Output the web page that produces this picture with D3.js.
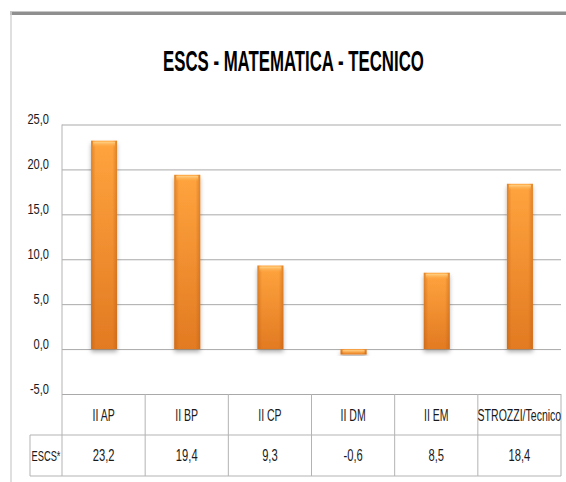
<!DOCTYPE html>
<html>
<head>
<meta charset="utf-8">
<script src="https://cdn.jsdelivr.net/npm/d3@7"></script>
<style>
  body { margin: 0; background: #fff; }
  text { font-family: "Liberation Sans", Arial, sans-serif; fill: #1a1a1a; }
</style>
</head>
<body>
<div id="chart"></div>
<script>
/* chart data */
var categories = ["II AP", "II BP", "II CP", "II DM", "II EM", "STROZZI/Tecnico"];
var escsValues = [23.2, 19.4, 9.3, -0.6, 8.5, 18.4];
var yTicks = [-5, 0, 5, 10, 15, 20, 25];
var seriesName = "ESCS*";
var chartTitle = "ESCS - MATEMATICA - TECNICO";

var W = 566, H = 482;
var plot = { left: 62, right: 561, top: 124.5, bottom: 394 };
var table = { left: 30, rowH: 41, bottom: 476 };

/* italian number format: comma decimal, plain hyphen minus */
var itLocale = d3.formatLocale({ decimal: ",", thousands: ".", grouping: [3], currency: ["", " €"], minus: "-" });
var fmt = itLocale.format(".1f");

/* squeeze text horizontally around its anchor x (the source font is a narrow one) */
function squeeze(sel, k) {
  sel.each(function () {
    var t = d3.select(this);
    var x0 = +t.attr("x") || 0;
    t.attr("transform", "translate(" + x0 + ",0) scale(" + k + ",1) translate(" + (-x0) + ",0)");
  });
}

var svg = d3.select("#chart").append("svg")
  .attr("width", W)
  .attr("height", H);

/* gradients and shadow */
var defs = svg.append("defs");
var grad = defs.append("linearGradient")
  .attr("id", "barFill").attr("x1", 0).attr("y1", 0).attr("x2", 0).attr("y2", 1);
grad.append("stop").attr("offset", "0%").attr("stop-color", "#ffa43e");
grad.append("stop").attr("offset", "100%").attr("stop-color", "#e27a22");

var side = defs.append("linearGradient")
  .attr("id", "barSide").attr("x1", 0).attr("y1", 0).attr("x2", 1).attr("y2", 0);
side.append("stop").attr("offset", "0%").attr("stop-color", "#b85a10").attr("stop-opacity", 0.45);
side.append("stop").attr("offset", "18%").attr("stop-color", "#b85a10").attr("stop-opacity", 0);
side.append("stop").attr("offset", "82%").attr("stop-color", "#b85a10").attr("stop-opacity", 0);
side.append("stop").attr("offset", "100%").attr("stop-color", "#b85a10").attr("stop-opacity", 0.45);

var bevel = defs.append("linearGradient")
  .attr("id", "barTop").attr("x1", 0).attr("y1", 0).attr("x2", 0).attr("y2", 1);
bevel.append("stop").attr("offset", "0%").attr("stop-color", "#ffd48a");
bevel.append("stop").attr("offset", "100%").attr("stop-color", "#ffa43e").attr("stop-opacity", 0);

var shadow = defs.append("filter").attr("id", "shadow")
  .attr("x", "-30%").attr("y", "-10%").attr("width", "160%").attr("height", "130%");
shadow.append("feDropShadow")
  .attr("dx", 0).attr("dy", 3).attr("stdDeviation", 2)
  .attr("flood-color", "#000").attr("flood-opacity", 0.3);

/* outer frame */
svg.append("line")
  .attr("x1", 10).attr("x2", W).attr("y1", 13.3).attr("y2", 13.3)
  .style("stroke", "#8f8f8f").style("stroke-width", 3.4);
svg.append("line")
  .attr("x1", 11).attr("x2", 11).attr("y1", 12).attr("y2", H)
  .style("stroke", "#d4d4d4").style("stroke-width", 1.5);

/* title, fitted to the width it has in the source */
var title = svg.append("text")
  .attr("x", 163).attr("y", 71.5)
  .style("font-size", "30px")
  .style("font-weight", "bold")
  .style("fill", "#000")
  .text(chartTitle);
squeeze(title, 261 / title.node().getComputedTextLength());

/* scales */
var x = d3.scaleBand().domain(categories).range([plot.left, plot.right]).paddingInner(0).paddingOuter(0);
var y = d3.scaleLinear().domain([-5, 25]).range([plot.bottom, plot.top]);

/* gridlines */
svg.append("g").attr("class", "grid")
  .attr("transform", "translate(" + plot.left + ",0)")
  .call(d3.axisLeft(y).tickValues(yTicks).tickSize(-(plot.right - plot.left)).tickFormat(""))
  .call(function (g) { g.select(".domain").remove(); })
  .selectAll("line")
  .style("stroke", "#a9a9a9")
  .style("stroke-width", 1);

/* y axis labels */
svg.append("g")
  .attr("transform", "translate(" + plot.left + ",0)")
  .call(d3.axisLeft(y).tickValues(yTicks).tickSize(0).tickPadding(13).tickFormat(fmt))
  .call(function (g) { g.select(".domain").remove(); })
  .selectAll("text")
  .style("font-size", "15px")
  .style("fill", "#1a1a1a")
  .attr("dy", "-0.05em")
  .call(squeeze, 0.74);

/* bars */
var bw = 26;
var bars = svg.append("g").selectAll(".bar")
  .data(escsValues)
  .enter()
  .append("g")
  .attr("class", "bar");

bars.append("rect")
  .attr("x", function (d, i) { return x(categories[i]) + x.bandwidth() / 2 - bw / 2 + 0.5; })
  .attr("y", function (d) { return y(Math.max(d, 0)); })
  .attr("width", bw)
  .attr("height", function (d) { return Math.abs(y(d) - y(0)); })
  .style("fill", "url(#barFill)")
  .attr("filter", "url(#shadow)");

bars.append("rect")
  .attr("x", function (d, i) { return x(categories[i]) + x.bandwidth() / 2 - bw / 2 + 0.5; })
  .attr("y", function (d) { return y(Math.max(d, 0)); })
  .attr("width", bw)
  .attr("height", function (d) { return Math.abs(y(d) - y(0)); })
  .style("fill", "url(#barSide)");

bars.append("rect")
  .attr("x", function (d, i) { return x(categories[i]) + x.bandwidth() / 2 - bw / 2 + 2.5; })
  .attr("y", function (d) { return y(Math.max(d, 0)) + 1; })
  .attr("width", bw - 4)
  .attr("height", function (d) { return Math.min(6, Math.abs(y(d) - y(0)) - 1); })
  .style("fill", "url(#barTop)");

/* data table */
var tbl = svg.append("g").attr("class", "table");
var rowMid = table.bottom - table.rowH;
var lineStyle = function (sel) { sel.style("stroke", "#b3b3b3").style("stroke-width", 1); };

tbl.append("line").attr("x1", table.left).attr("x2", plot.right)
  .attr("y1", rowMid).attr("y2", rowMid).call(lineStyle);
tbl.append("line").attr("x1", table.left).attr("x2", plot.right)
  .attr("y1", table.bottom).attr("y2", table.bottom).call(lineStyle);
tbl.append("line").attr("x1", table.left).attr("x2", table.left)
  .attr("y1", rowMid).attr("y2", table.bottom).call(lineStyle);
tbl.append("line").attr("x1", plot.left).attr("x2", plot.left)
  .attr("y1", plot.top).attr("y2", table.bottom).call(lineStyle);

tbl.selectAll(".col-line")
  .data(categories)
  .enter()
  .append("line")
  .attr("class", "col-line")
  .attr("x1", function (c) { return x(c) + x.bandwidth(); })
  .attr("x2", function (c) { return x(c) + x.bandwidth(); })
  .attr("y1", plot.bottom)
  .attr("y2", table.bottom)
  .call(lineStyle);

/* category labels */
tbl.selectAll(".cat-label")
  .data(categories)
  .enter()
  .append("text")
  .attr("class", "cat-label")
  .attr("x", function (c) { return x(c) + x.bandwidth() / 2; })
  .attr("y", (plot.bottom + rowMid) / 2)
  .attr("dy", "0.36em")
  .style("text-anchor", "middle")
  .style("font-size", "17px")
  .text(function (c) { return c; })
  .call(squeeze, 0.62);

/* values row */
tbl.selectAll(".val-label")
  .data(escsValues)
  .enter()
  .append("text")
  .attr("class", "val-label")
  .attr("x", function (d, i) { return x(categories[i]) + x.bandwidth() / 2; })
  .attr("y", (rowMid + table.bottom) / 2)
  .attr("dy", "0.36em")
  .style("text-anchor", "middle")
  .style("font-size", "16px")
  .text(fmt)
  .call(squeeze, 0.7);

tbl.append("text")
  .attr("x", (table.left + plot.left) / 2)
  .attr("y", (rowMid + table.bottom) / 2)
  .attr("dy", "0.36em")
  .style("text-anchor", "middle")
  .style("font-size", "15px")
  .text(seriesName)
  .call(squeeze, 0.62);
</script>
</body>
</html>
